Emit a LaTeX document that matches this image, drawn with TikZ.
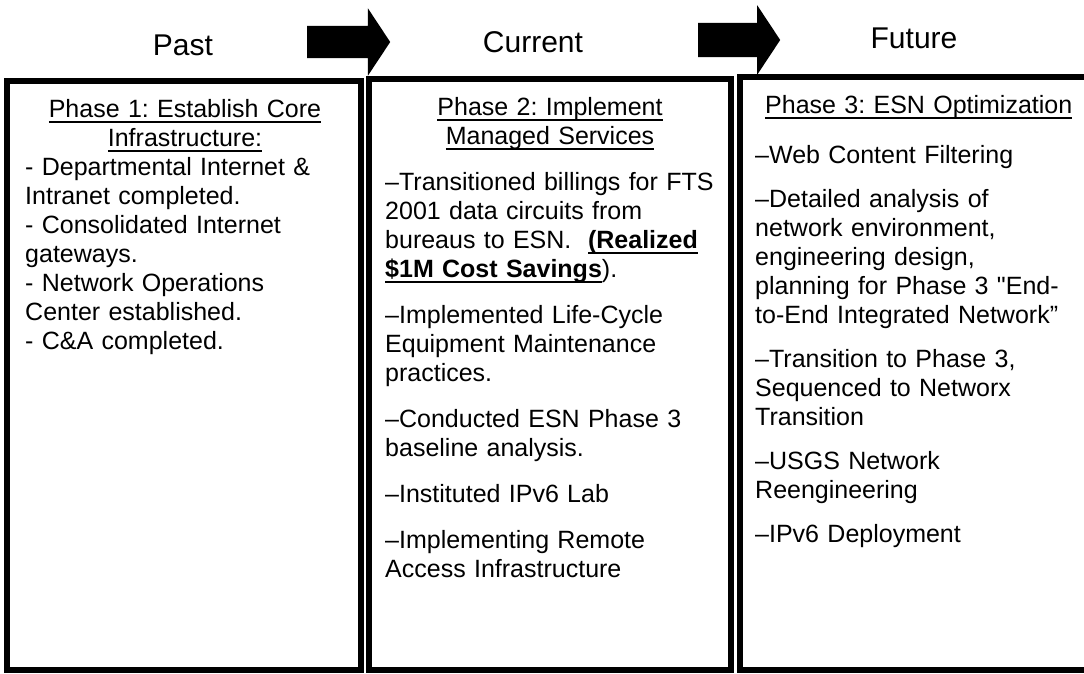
\documentclass[tikz,border=0pt]{standalone}
\usepackage{fontspec}
\setmainfont{Liberation Sans}
\usetikzlibrary{positioning,shapes.arrows}

% thick underline used in the phase titles
\newcommand{\phaseul}[1]{\leavevmode\setbox0\hbox{#1}\rlap{\vrule height -4pt depth 6pt width \wd0}\box0}

\begin{document}
\frenchspacing
\begin{tikzpicture}[x=1pt,y=-1pt,
  phasebox/.style={draw, line width=6pt, inner sep=0pt},
  timelabel/.style={font=\fontsize{30}{36}\selectfont, inner sep=0pt},
  blockarrow/.style={single arrow, fill=black, inner xsep=0pt, inner ysep=16pt, anchor=tail,
    minimum height=83pt, single arrow head extend=17.5pt, single arrow tip angle=113},
  phasetitle/.style={font=\fontsize{25}{29}\selectfont, inner sep=0pt, text width=340pt, align=center, anchor=base},
  phasetext/.style={font=\fontsize{25}{29}\selectfont, inner sep=0pt, text width=340pt, align=left, anchor=base west}
]
\useasboundingbox (0,0) rectangle (1084,673);

% time line
\node[timelabel] (past) at (183,45) {Past};
\node[timelabel] (current) at (533,42) {Current};
\node[timelabel] (future) at (914,38) {Future};
\node[blockarrow] (arr1) at (307,42) {};
\node[blockarrow, minimum height=82pt, inner ysep=17pt] (arr2) at (698,40) {};

% phase boxes
\node[phasebox, minimum width=354pt, minimum height=589pt] (ph1) at (184,375.5) {};
\node[phasebox, minimum width=361.5pt, minimum height=591pt] (ph2) at (549.75,374.5) {};
\node[phasebox, minimum width=360.5pt, minimum height=593pt] (ph3) at (919.75,373.5) {};

% phase 1
\node[phasetitle] (title1) at (185,117) {\phaseul{Phase 1: Establish Core}\\\phaseul{Infrastructure:}};
\node[phasetext, text width=330pt] (items1) at (25,175) {- Departmental Internet \&\\Intranet completed.\\- Consolidated Internet\\gateways.\\- Network Operations\\Center established.\\- C\&A completed.};

% phase 2
\node[phasetitle] (title2) at (550,115) {\phaseul{Phase 2: Implement}\\\phaseul{Managed Services}};
\node[phasetext] (items2) at (385,190) {--Transitioned billings for FTS\\2001 data circuits from\\bureaus to ESN.\ \ \phaseul{\textbf{(Realized}}\\\phaseul{\textbf{\$1M Cost Savings}}).\\[17pt]--Implemented Life-Cycle\\Equipment Maintenance\\practices.\\[17pt]--Conducted ESN Phase 3\\baseline analysis.\\[17pt]--Instituted IPv6 Lab\\[17pt]--Implementing Remote\\Access Infrastructure};

% phase 3
\node[phasetext] (title3) at (765,113) {\phaseul{Phase 3: ESN Optimization}};
\node[phasetext] (items3) at (755,163) {--Web Content Filtering\\[15pt]--Detailed analysis of\\network environment,\\engineering design,\\planning for Phase 3 \textquotedbl End-\\to-End Integrated Network”\\[15pt]--Transition to Phase 3,\\Sequenced to Networx\\Transition\\[15pt]--USGS Network\\Reengineering\\[15pt]--IPv6 Deployment};
\end{tikzpicture}
\end{document}
